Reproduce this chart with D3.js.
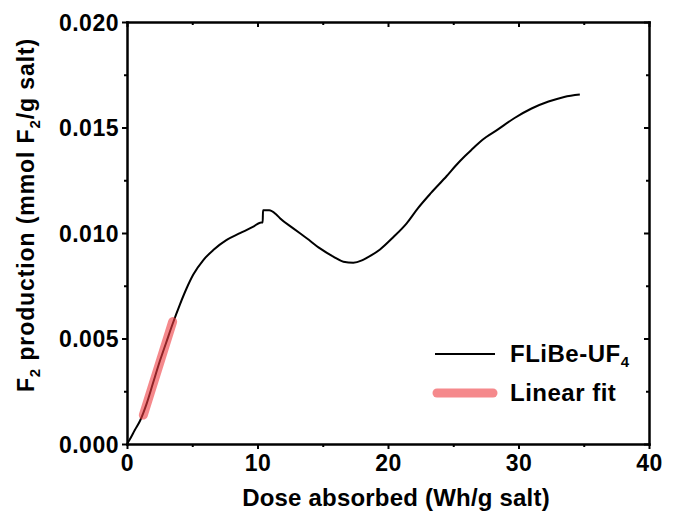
<!DOCTYPE html>
<html><head><meta charset="utf-8">
<script src="https://cdn.jsdelivr.net/npm/d3@7"></script>
<style>
body{margin:0;background:#fff;}
text{font-family:"Liberation Sans",Arial,sans-serif;font-weight:bold;fill:#000;}
</style></head><body>
<svg id="c" width="679" height="516"></svg>
<script>
const dose = [0, 0.2, 0.6, 1.0, 1.5, 2.0, 2.5, 3.0, 3.5, 4.06, 4.57, 5.08, 5.85, 6.61, 7.64, 8.66, 9.68, 10.2, 10.4, 10.42, 10.9, 11.4, 11.72, 12.74, 13.77, 14.79, 15.81, 16.58, 17.34, 18.0, 18.37, 19.39, 20.4, 21.43, 22.3, 23.3, 24.5, 25.2, 25.9, 26.5, 27.2, 28.4, 29.7, 31.0, 32.3, 33.5, 34.7];
const f2 = [0, 0.0002, 0.00066, 0.0011, 0.0019, 0.0029, 0.0039, 0.0048, 0.0057, 0.00662, 0.00738, 0.00803, 0.00872, 0.00919, 0.00967, 0.00999, 0.0103, 0.01049, 0.0105, 0.01108, 0.01108, 0.0109, 0.0107, 0.01022, 0.00975, 0.00927, 0.00888, 0.00864, 0.00859, 0.0087, 0.00882, 0.00922, 0.0098, 0.01046, 0.01118, 0.0119, 0.0127, 0.0132, 0.01365, 0.0140, 0.0144, 0.0149, 0.01545, 0.0159, 0.01623, 0.01645, 0.01656];
const fitDose = [1.25, 3.5];
const fitF2 = [0.00137, 0.0058];
const xTicks = [0, 10, 20, 30, 40];
const xMinor = [5, 15, 25, 35];
const yTicks = [0, 0.005, 0.010, 0.015, 0.020];
const yMinor = [0.0025, 0.0075, 0.0125, 0.0175];
const seriesNames = ["FLiBe-UF", "Linear fit"];

const svg = d3.select("#c");
const L = 127, R = 649, T = 22, B = 444;
const x = d3.scaleLinear().domain([0, 40]).range([L, R]);
const y = d3.scaleLinear().domain([0, 0.020]).range([B, T]);

const FS = "23px", LS = "0.5px";

function ax(gen, tr, ticks, size, fmt) {
  const g = svg.append("g").attr("transform", tr)
    .call(gen.tickValues(ticks).tickSize(size).tickSizeOuter(0).tickFormat(fmt));
  g.select(".domain").attr("stroke-width", 2.5);
  g.selectAll(".tick line").attr("stroke-width", 2);
  return g;
}
const noFmt = () => "";
ax(d3.axisBottom(x), `translate(0,${B})`, xMinor, 3, noFmt).select(".domain").remove();
ax(d3.axisLeft(y), `translate(${L},0)`, yMinor, 3, noFmt).select(".domain").remove();
ax(d3.axisTop(x), `translate(0,${T})`, xMinor, -3, noFmt).select(".domain").remove();
ax(d3.axisRight(y), `translate(${R},0)`, yMinor, -3, noFmt).select(".domain").remove();

const gx = ax(d3.axisBottom(x), `translate(0,${B})`, xTicks, 5, d3.format("d"));
gx.selectAll(".tick text").attr("dy", 0).attr("y", 27).style("font-size", FS).style("letter-spacing", LS);
const gy = ax(d3.axisLeft(y), `translate(${L},0)`, yTicks, 5, d3.format(".3f"));
gy.selectAll(".tick text").attr("x", -8).attr("dy", "0.36em").style("font-size", FS).style("letter-spacing", LS);
ax(d3.axisTop(x), `translate(0,${T})`, xTicks, -5, noFmt);
ax(d3.axisRight(y), `translate(${R},0)`, yTicks, -5, noFmt);
svg.selectAll(".domain").attr("stroke-linecap", "square");

const pts = dose.map((d, i) => [d, f2[i]]);
const line = d3.line().x(d => x(d[0])).y(d => y(d[1])).curve(d3.curveMonotoneX);
svg.append("path").datum(pts).attr("d", line)
  .attr("fill", "none").attr("stroke", "#000").attr("stroke-width", 2);

const fitPts = fitDose.map((d, i) => [d, fitF2[i]]);
const fline = d3.line().x(d => x(d[0])).y(d => y(d[1]));
svg.append("path").datum(fitPts).attr("d", fline)
  .attr("fill", "none").attr("stroke", "#ee3a3f").attr("stroke-opacity", 0.6)
  .attr("stroke-width", 9).attr("stroke-linecap", "round");

svg.append("text").attr("x", 396).attr("y", 506).attr("text-anchor", "middle")
  .style("font-size", "24px").style("letter-spacing", "0.2px").text("Dose absorbed (Wh/g salt)");
const yt = svg.append("text").attr("transform", "translate(34,215) rotate(-90)")
  .attr("text-anchor", "middle").style("font-size", "23px").style("letter-spacing", "0.9px");
yt.append("tspan").text("F");
yt.append("tspan").attr("dy", 6).style("font-size", "15px").text("2");
yt.append("tspan").attr("dy", -6).text(" production (mmol F");
yt.append("tspan").attr("dy", 6).style("font-size", "15px").text("2");
yt.append("tspan").attr("dy", -6).text("/g salt)");

const lg = svg.append("g");
lg.append("line").attr("x1", 435).attr("x2", 495).attr("y1", 354).attr("y2", 354)
  .attr("stroke", "#000").attr("stroke-width", 2);
const t1 = lg.append("text").attr("x", 510).attr("y", 362).style("font-size", "24px").style("letter-spacing", LS);
t1.append("tspan").text(seriesNames[0]);
t1.append("tspan").attr("dy", 5).style("font-size", "15px").text("4");
lg.append("line").attr("x1", 437).attr("x2", 493).attr("y1", 393).attr("y2", 393)
  .attr("stroke", "#ee3a3f").attr("stroke-opacity", 0.6).attr("stroke-width", 9).attr("stroke-linecap", "round");
lg.append("text").attr("x", 510).attr("y", 401).style("font-size", "24px").style("letter-spacing", LS).text(seriesNames[1]);
</script></body></html>
